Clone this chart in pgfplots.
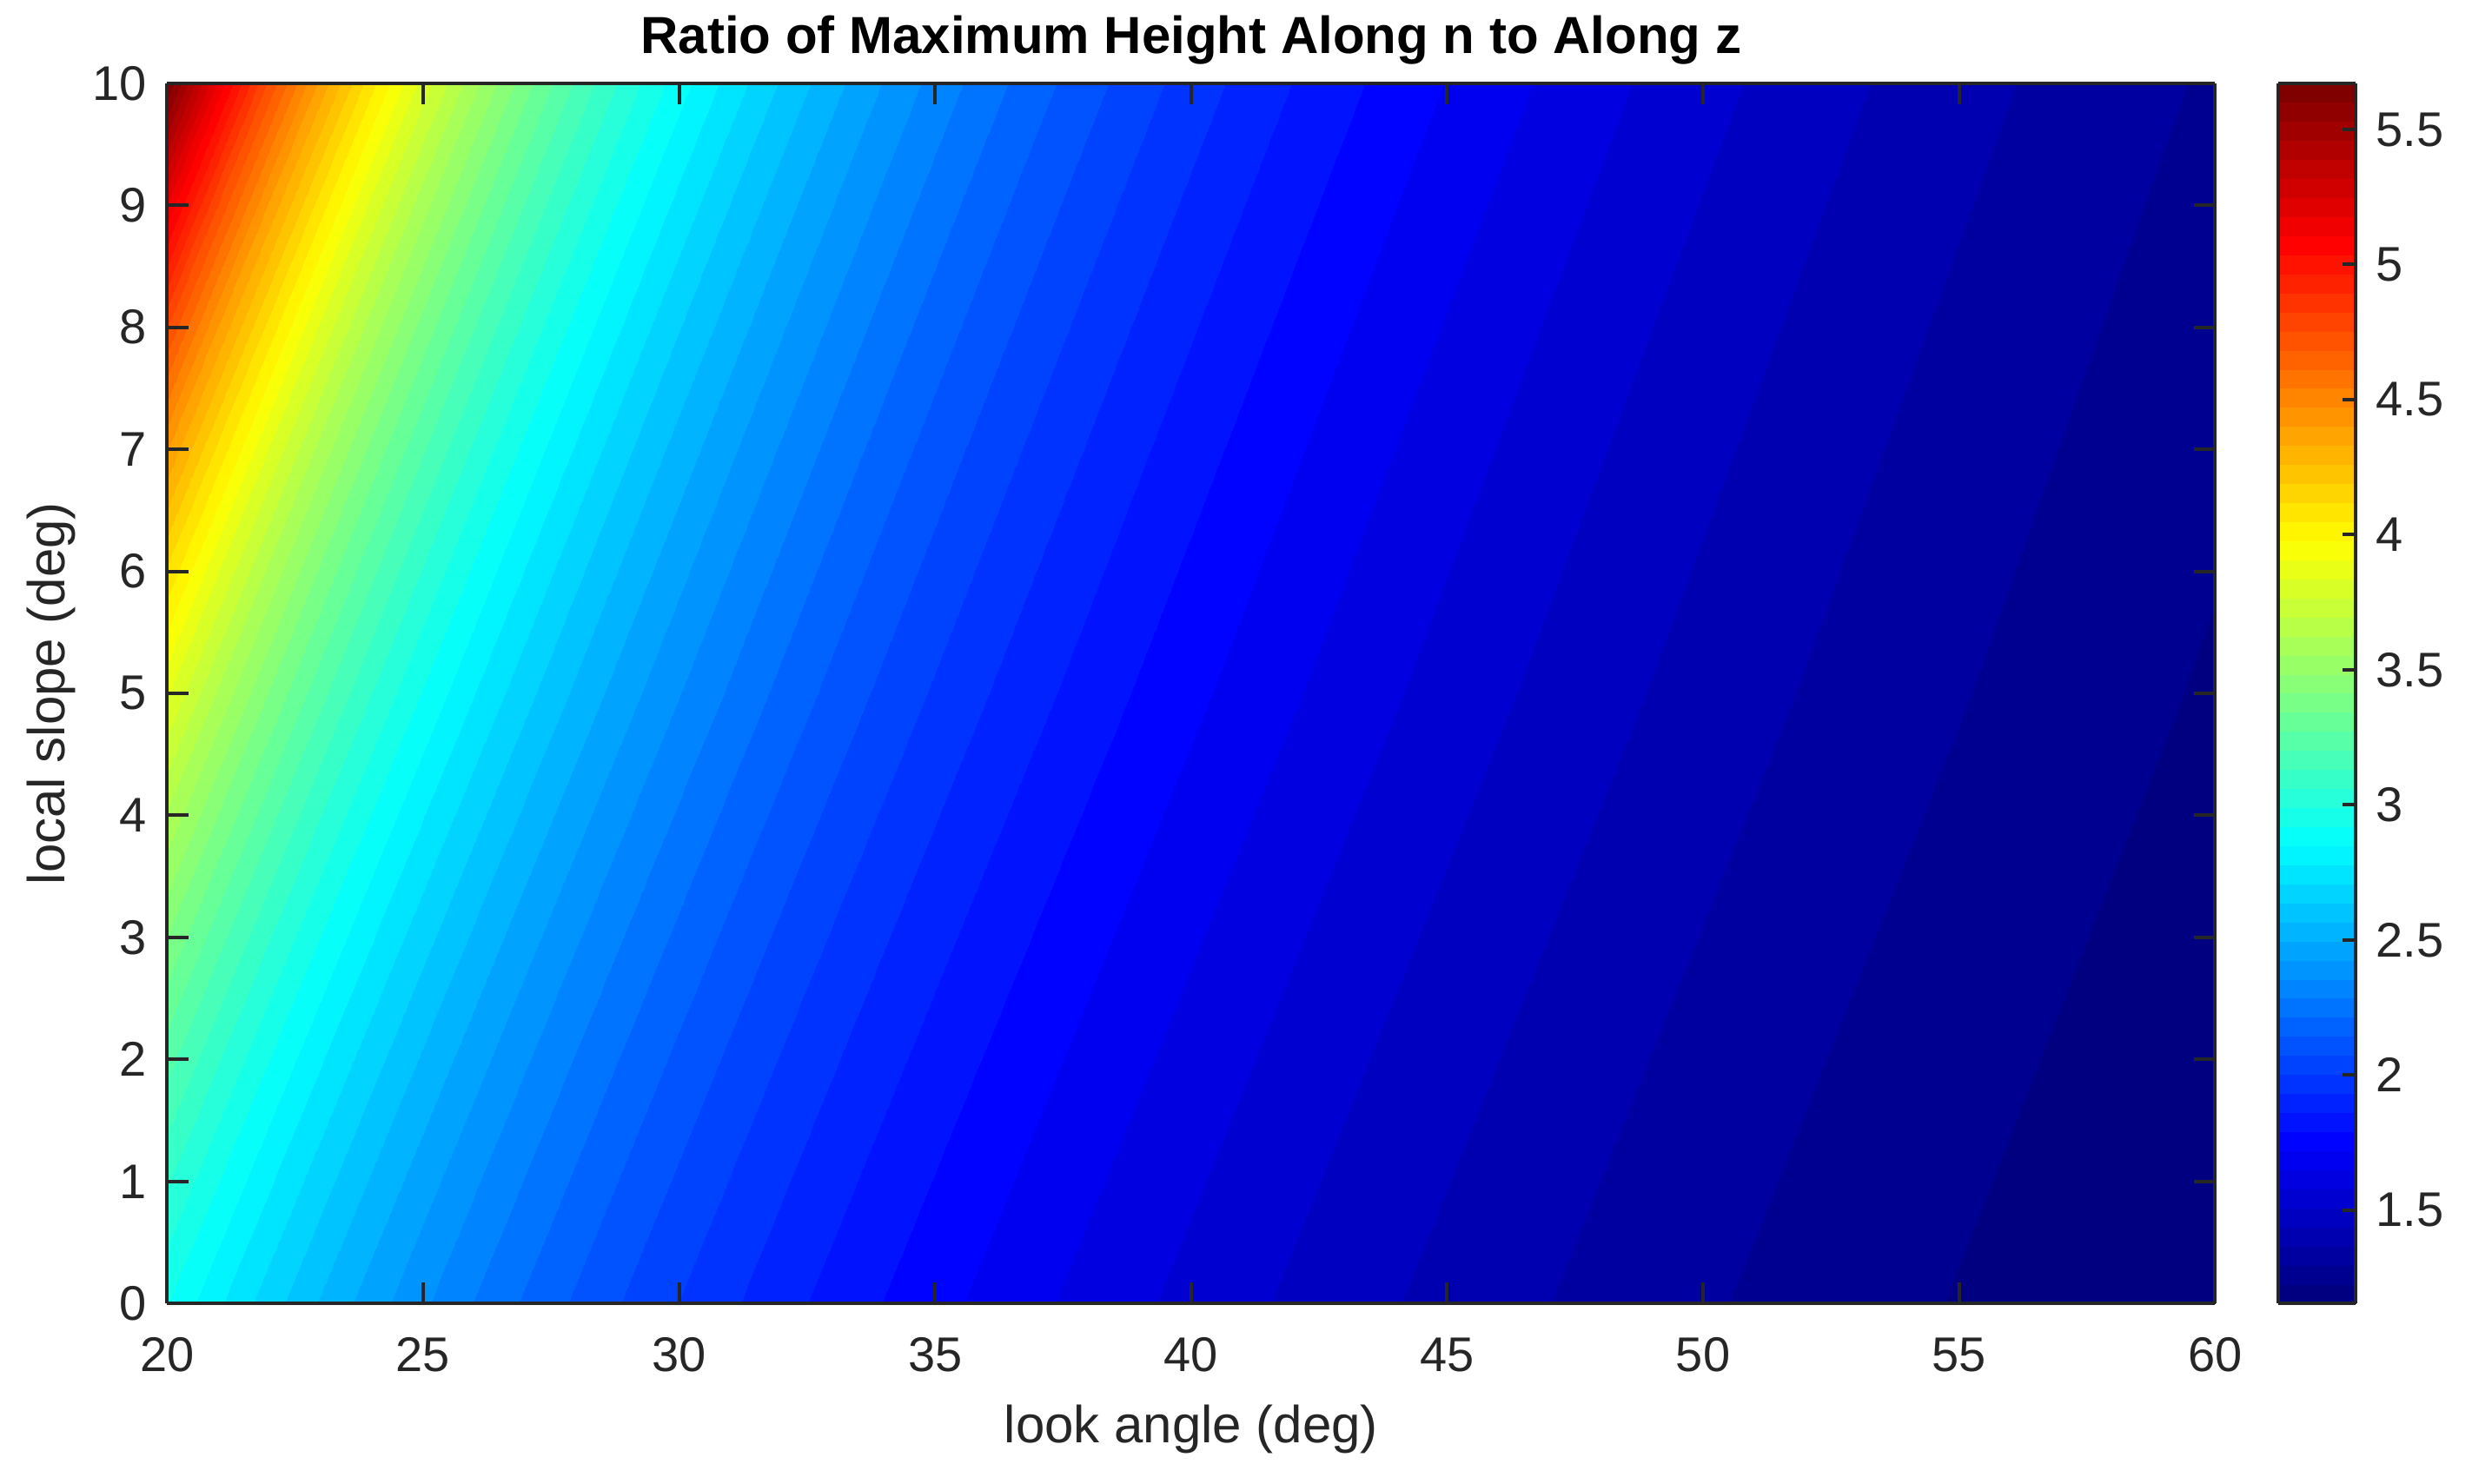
\documentclass[border=0pt]{standalone}
\usepackage{fontspec}
\setmainfont{Liberation Sans}
\usepackage{pgfplots}
\pgfplotsset{compat=1.18}
\definecolor{axgray}{RGB}{38,38,38}
\pgfplotsset{/pgf/number format/assume math mode=true}
\begin{document}
\begin{tikzpicture}
\begin{axis}[
  name=ax,
  at={(0,0)}, anchor=south west,
  width=353.6pt, height=210.7pt, scale only axis,
  view={0}{90},
  xmin=20, xmax=60, ymin=0, ymax=10,
  clip=true,
  point meta min=1.1547, point meta max=5.6713,
  xtick={20,25,...,60}, ytick={0,1,...,10},
  tick align=inside,
  major tick length=3.7pt,
  axis on top,
  axis line style={axgray, line width=0.6pt},
  every tick/.style={axgray, line width=0.6pt},
  ticklabel style={font=\fontsize{8.4}{10}\selectfont, text=axgray},
  xticklabel style={yshift=-2.4pt},
  /pgf/number format/assume math mode=true,
  xlabel={look angle (deg)}, ylabel={local slope (deg)},
  label style={font=\fontsize{9}{11}\selectfont, text=axgray},
  xlabel style={at={(axis description cs:0.5,-0.1139)}, anchor=base},
  ylabel style={at={(axis description cs:-0.0501,0.5)}, anchor=base, rotate=0},
  colormap/jet,
  colorbar shift/.style={xshift=2.95pt},
  colorbar,
  colorbar style={
    width=13.3pt,
    ytick={1.5,2,...,5.5},
    ytick pos=right,
    tick align=inside,
    major tick length=2.2pt,
    axis line style={axgray, line width=0.6pt},
    every tick/.style={axgray, line width=0.6pt},
    ticklabel style={font=\fontsize{8.4}{10}\selectfont, text=axgray},
    /pgf/number format/assume math mode=true,
  },
]
\addplot3[contour filled={number=64}, mesh/cols=51] table[x=x, y=y, z=z] {
x y z
10 0 5.7588
11 0 5.2408
12 0 4.8097
13 0 4.4454
14 0 4.1336
15 0 3.8637
16 0 3.6280
17 0 3.4203
18 0 3.2361
19 0 3.0716
20 0 2.9238
21 0 2.7904
22 0 2.6695
23 0 2.5593
24 0 2.4586
25 0 2.3662
26 0 2.2812
27 0 2.2027
28 0 2.1301
29 0 2.0627
30 0 2.0000
31 0 1.9416
32 0 1.8871
33 0 1.8361
34 0 1.7883
35 0 1.7434
36 0 1.7013
37 0 1.6616
38 0 1.6243
39 0 1.5890
40 0 1.5557
41 0 1.5243
42 0 1.4945
43 0 1.4663
44 0 1.4396
45 0 1.4142
46 0 1.3902
47 0 1.3673
48 0 1.3456
49 0 1.3250
50 0 1.3054
51 0 1.2868
52 0 1.2690
53 0 1.2521
54 0 1.2361
55 0 1.2208
56 0 1.2062
57 0 1.1924
58 0 1.1792
59 0 1.1666
60 0 1.1547

15 5 5.7369
16 5 5.2208
17 5 4.7914
18 5 4.4285
19 5 4.1179
20 5 3.8490
21 5 3.6142
22 5 3.4073
23 5 3.2238
24 5 3.0599
25 5 2.9127
26 5 2.7798
27 5 2.6593
28 5 2.5496
29 5 2.4492
30 5 2.3572
31 5 2.2725
32 5 2.1943
33 5 2.1220
34 5 2.0548
35 5 1.9924
36 5 1.9342
37 5 1.8799
38 5 1.8291
39 5 1.7815
40 5 1.7368
41 5 1.6948
42 5 1.6553
43 5 1.6181
44 5 1.5829
45 5 1.5498
46 5 1.5185
47 5 1.4888
48 5 1.4607
49 5 1.4341
50 5 1.4088
51 5 1.3849
52 5 1.3621
53 5 1.3405
54 5 1.3200
55 5 1.3004
56 5 1.2819
57 5 1.2642
58 5 1.2473
59 5 1.2314
60 5 1.2162
61 5 1.2016
62 5 1.1879
63 5 1.1747
64 5 1.1622
65 5 1.1503

20 10 5.6713
21 10 5.1612
22 10 4.7366
23 10 4.3779
24 10 4.0708
25 10 3.8050
26 10 3.5729
27 10 3.3683
28 10 3.1869
29 10 3.0249
30 10 2.8794
31 10 2.7480
32 10 2.6289
33 10 2.5204
34 10 2.4213
35 10 2.3303
36 10 2.2465
37 10 2.1692
38 10 2.0977
39 10 2.0314
40 10 1.9696
41 10 1.9121
42 10 1.8584
43 10 1.8082
44 10 1.7611
45 10 1.7169
46 10 1.6755
47 10 1.6364
48 10 1.5996
49 10 1.5649
50 10 1.5321
51 10 1.5011
52 10 1.4718
53 10 1.4440
54 10 1.4177
55 10 1.3927
56 10 1.3691
57 10 1.3465
58 10 1.3252
59 10 1.3049
60 10 1.2856
61 10 1.2673
62 10 1.2497
63 10 1.2331
64 10 1.2173
65 10 1.2023
66 10 1.1879
67 10 1.1743
68 10 1.1613
69 10 1.1489
70 10 1.1372
};
\end{axis}
\node[anchor=base, font=\fontsize{9}{11}\selectfont\bfseries, text=black, inner sep=0pt]
  at ([yshift=5.1pt]ax.north) {Ratio of Maximum Height Along n to Along z};
\pgfresetboundingbox
\path (ax.south west) ++(-28.85pt,-31.03pt) rectangle ++(426.8pt,256.1pt);
\end{tikzpicture}
\end{document}
